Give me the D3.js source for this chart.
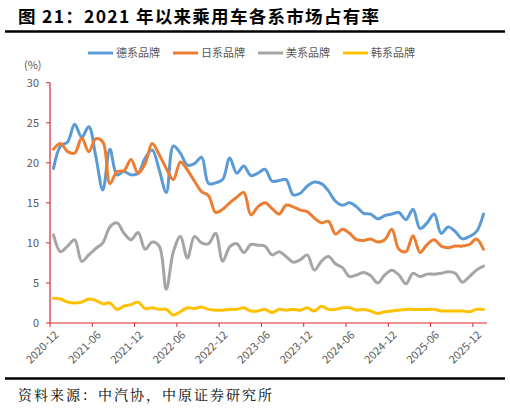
<!DOCTYPE html>
<html>
<head>
<meta charset="utf-8">
<script src="https://cdn.jsdelivr.net/npm/d3@7"></script>
<style>
  body { margin: 0; background: #fff; }
  svg { display: block; font-family: "Noto Sans CJK SC", "Noto Sans", sans-serif; }
  .tick-label { fill: #595959; font-size: 11px; }
  .legend-label { fill: #595959; font-size: 11px; }
</style>
</head>
<body>
<div id="wrapper"></div>
<script>
// months 2020-12 .. 2026-01
const months = d3.timeMonths(new Date(2020, 11, 1), new Date(2026, 1, 1)).map(d3.timeFormat("%Y-%m"))
const tickLabels = ["2020-12", "2021-06", "2021-12", "2022-06", "2022-12", "2023-06",
  "2023-12", "2024-06", "2024-12", "2025-06", "2025-12"]
const yTicks = [0, 5, 10, 15, 20, 25, 30]

const german = [19.3, 22.1, 22.6, 24.8, 23.2, 24.5, 20.8, 16.6, 21.7, 18.5,
  18.9, 18.5, 18.7, 20.6, 21.6, 19.1, 16.3, 22.1, 21.2, 19.7,
  19.9, 20.7, 17.4, 17.5, 17.9, 20.6, 18.7, 19.6, 18.4, 18.7,
  19.2, 17.7, 17.8, 17.9, 16.0, 16.2, 17.1, 17.6, 17.4, 16.5,
  15.2, 14.7, 15.0, 14.5, 13.7, 13.6, 13.0, 13.4, 13.6, 13.8,
  12.9, 14.2, 11.8, 12.5, 13.6, 11.2, 12.0, 11.4, 10.5, 10.8,
  11.4, 13.6]
const japanese = [21.7, 22.4, 21.4, 21.2, 23.1, 21.4, 23.0, 22.6, 17.4, 18.9,
  19.0, 20.4, 18.7, 19.9, 22.4, 21.0, 19.3, 17.9, 20.1, 19.1,
  17.7, 16.4, 15.9, 13.8, 14.2, 15.0, 15.7, 16.3, 13.5, 14.5,
  15.0, 14.3, 13.6, 14.7, 14.5, 14.1, 13.9, 13.1, 12.5, 12.7,
  11.1, 11.7, 11.2, 10.4, 10.3, 10.5, 10.1, 10.4, 11.7, 9.2,
  8.9, 10.9, 8.8, 9.8, 10.4, 9.6, 9.4, 9.6, 9.6, 9.8,
  10.5, 9.2]
const american = [11.0, 8.9, 9.6, 10.4, 7.7, 8.5, 9.3, 10.0, 12.0, 12.5,
  11.2, 10.4, 11.3, 9.2, 10.1, 9.6, 4.2, 8.9, 10.8, 8.1,
  10.8, 10.0, 9.9, 11.2, 7.7, 9.5, 9.9, 8.8, 9.8, 9.7,
  9.6, 8.5, 8.9, 8.3, 7.6, 7.9, 8.5, 6.6, 7.7, 8.3,
  7.4, 6.9, 5.8, 6.0, 6.3, 5.9, 5.0, 6.0, 6.6, 6.0,
  4.9, 6.2, 5.8, 6.1, 6.1, 6.2, 6.4, 6.2, 5.1, 5.8,
  6.6, 7.1]
const korean = [3.1, 3.0, 2.6, 2.5, 2.6, 3.0, 2.8, 2.4, 2.5, 1.7,
  2.1, 2.3, 2.6, 1.8, 1.9, 1.7, 1.7, 1.0, 1.4, 1.9,
  1.8, 2.0, 1.7, 1.6, 1.6, 1.7, 1.7, 1.9, 1.5, 1.5,
  1.7, 1.3, 1.7, 1.6, 1.7, 1.6, 1.9, 1.5, 2.1, 1.7,
  1.7, 1.9, 1.9, 1.6, 1.7, 1.5, 1.2, 1.4, 1.5, 1.6,
  1.7, 1.7, 1.7, 1.7, 1.7, 1.5, 1.5, 1.5, 1.5, 1.4,
  1.7, 1.7]

const seriesNames = ["德系品牌", "日系品牌", "美系品牌", "韩系品牌"]
const seriesColors = ["#5B9BD5", "#ED7D31", "#A5A5A5", "#FFC000"]
const series = [german, japanese, american, korean]

const width = 510
const height = 409
const axisColor = "#D9262C"

const svg = d3.select("#wrapper")
  .append("svg")
    .attr("width", width)
    .attr("height", height)

// title + rules
svg.append("text")
    .attr("x", 18)
    .attr("y", 23)
    .attr("font-size", 17.5)
    .attr("font-weight", "bold")
    .attr("letter-spacing", 1.3)
    .attr("fill", "#000")
    .text("图 21：2021 年以来乘用车各系市场占有率")

svg.append("line")
    .attr("x1", 5).attr("x2", 505)
    .attr("y1", 31.5).attr("y2", 31.5)
    .attr("stroke", "#000").attr("stroke-width", 2.5)

svg.append("line")
    .attr("x1", 5).attr("x2", 505)
    .attr("y1", 378.5).attr("y2", 378.5)
    .attr("stroke", "#000").attr("stroke-width", 2.5)

svg.append("text")
    .attr("x", 18)
    .attr("y", 400)
    .attr("font-size", 14)
    .attr("letter-spacing", 2)
    .attr("fill", "#000")
    .attr("font-family", "'Noto Serif CJK SC', 'Noto Sans CJK SC', serif")
    .text("资料来源：中汽协，中原证券研究所")

// scales
const xScale = d3.scaleBand()
  .domain(months)
  .range([50, 487])

const yScale = d3.scaleLinear()
  .domain([0, 30])
  .range([323, 82.7])

const xCenter = m => xScale(m) + xScale.bandwidth() / 2

// legend
const legend = svg.selectAll(".legend")
    .data(seriesNames)
  .enter().append("g")
    .attr("class", "legend")
    .attr("transform", (d, i) => `translate(${88 + i * 85}, 53)`)

legend.append("line")
    .attr("x1", 0).attr("x2", 25)
    .attr("stroke", (d, i) => seriesColors[i])
    .attr("stroke-width", 3)

legend.append("text")
    .attr("class", "legend-label")
    .attr("x", 28)
    .attr("dy", "0.35em")
    .text(d => d)

// y axis
svg.append("text")
    .attr("class", "tick-label")
    .attr("x", 24)
    .attr("y", 69)
    .text("(%)")

svg.selectAll(".y-label")
    .data(yTicks)
  .enter().append("text")
    .attr("class", "tick-label")
    .attr("x", 39)
    .attr("y", yScale)
    .attr("dy", "0.35em")
    .attr("text-anchor", "end")
    .text(d => d)

svg.selectAll(".y-tick")
    .data(yTicks)
  .enter().append("line")
    .attr("x1", 46).attr("x2", 50)
    .attr("y1", yScale).attr("y2", yScale)
    .attr("stroke", axisColor)

svg.append("line")
    .attr("x1", 50).attr("x2", 50)
    .attr("y1", yScale(30)).attr("y2", yScale(0))
    .attr("stroke", axisColor).attr("stroke-width", 1.2)

// x axis
svg.append("line")
    .attr("x1", 50).attr("x2", 487)
    .attr("y1", yScale(0)).attr("y2", yScale(0))
    .attr("stroke", axisColor).attr("stroke-width", 1.2)

svg.selectAll(".x-tick")
    .data(tickLabels)
  .enter().append("line")
    .attr("x1", d => xScale(d)).attr("x2", d => xScale(d))
    .attr("y1", yScale(0)).attr("y2", yScale(0) + 4)
    .attr("stroke", axisColor)

svg.selectAll(".x-label")
    .data(tickLabels)
  .enter().append("text")
    .attr("class", "tick-label")
    .attr("font-size", 10.5)
    .attr("text-anchor", "end")
    .attr("transform", d => `translate(${xCenter(d) + 3}, 333) rotate(-45)`)
    .attr("dy", "0.35em")
    .text(d => d)

// lines
const lineGenerator = d3.line()
  .x((d, i) => xCenter(months[i]))
  .y(d => yScale(d))
  .curve(d3.curveCatmullRom.alpha(0.5))

svg.selectAll(".series")
    .data(series)
  .enter().append("path")
    .attr("d", lineGenerator)
    .attr("fill", "none")
    .attr("stroke", (d, i) => seriesColors[i])
    .attr("stroke-width", 3)
    .attr("stroke-linejoin", "round")
    .attr("stroke-linecap", "round")
</script>
</body>
</html>
